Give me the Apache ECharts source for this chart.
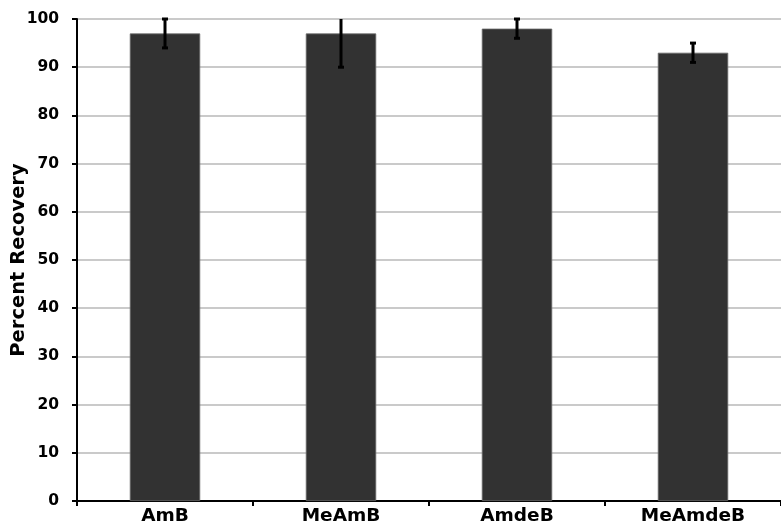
<!DOCTYPE html>
<html>
<head>
<meta charset="utf-8">
<script src="https://cdn.jsdelivr.net/npm/echarts@6/dist/echarts.min.js"></script>
<style>html,body{margin:0;padding:0;background:#fff;}#c{width:781px;height:525px;}</style>
</head>
<body>
<div id="c"></div>
<script>
var categories = ['AmB', 'MeAmB', 'AmdeB', 'MeAmdeB'];
var values = [97, 97, 98, 93];
var errors = [3, 7, 2, 2];
var yTicks = [0, 10, 20, 30, 40, 50, 60, 70, 80, 90, 100];

var chart = echarts.init(document.getElementById('c'));
var font = '"DejaVu Sans", "Liberation Sans", Arial, sans-serif';
var errData = categories.map(function (c, i) { return [i, values[i] - errors[i], values[i] + errors[i]]; });

chart.setOption({
  animation: false,
  grid: { left: 77, right: 0, top: 19, bottom: 24, containLabel: false, outerBoundsMode: 'none' },
  xAxis: {
    type: 'category',
    data: categories,
    axisLine: { lineStyle: { color: '#000', width: 2 } },
    axisTick: { show: true, length: 5, lineStyle: { color: '#000', width: 2 } },
    axisLabel: { color: '#000', fontFamily: font, fontWeight: 'bold', fontSize: 18.5, margin: 6 }
  },
  yAxis: {
    type: 'value',
    min: yTicks[0],
    max: yTicks[yTicks.length - 1],
    interval: 10,
    name: 'Percent Recovery',
    nameLocation: 'middle',
    nameGap: 48,
    nameMoveOverlap: false,
    nameTextStyle: { color: '#000', fontFamily: font, fontWeight: 'bold', fontSize: 19.5 },
    axisLine: { show: true, lineStyle: { color: '#000', width: 2 } },
    axisTick: { show: true, length: 5, lineStyle: { color: '#000', width: 2 } },
    axisLabel: { color: '#000', fontFamily: font, fontWeight: 'bold', fontSize: 15.5, margin: 18 },
    splitLine: { show: true, lineStyle: { color: '#b8b8b8', width: 1.6 } }
  },
  series: [
    {
      type: 'bar',
      data: values,
      barWidth: '40%',
      itemStyle: { color: '#323232', borderColor: '#6a6a6a', borderWidth: 0.8 }
    },
    {
      type: 'custom',
      data: errData,
      z: 10,
      renderItem: function (params, api) {
        var x = api.value(0);
        var lo = api.value(1), hi = api.value(2);
        var yMax = 100;
        var hiC = Math.min(hi, yMax);
        var p1 = api.coord([x, lo]);
        var p2 = api.coord([x, hiC]);
        var cw = 3;
        var style = { stroke: '#000', lineWidth: 3 };
        var children = [
          { type: 'line', shape: { x1: p1[0], y1: p1[1], x2: p2[0], y2: p2[1] }, style: style },
          { type: 'line', shape: { x1: p1[0] - cw, y1: p1[1], x2: p1[0] + cw, y2: p1[1] }, style: style }
        ];
        if (hi <= yMax) {
          children.push({ type: 'line', shape: { x1: p2[0] - cw, y1: p2[1], x2: p2[0] + cw, y2: p2[1] }, style: style });
        }
        return { type: 'group', children: children };
      }
    }
  ]
});
</script>
</body>
</html>
